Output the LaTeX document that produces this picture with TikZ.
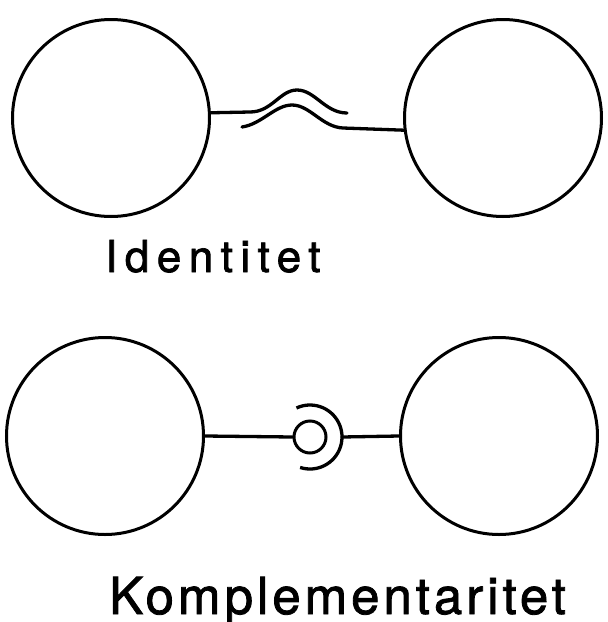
\documentclass[tikz,border=0pt]{standalone}
\usepackage{fontspec}
\setmainfont{TeX Gyre Heros}
\begin{document}
\begin{tikzpicture}[x=1pt,y=-1pt,
  ball/.style={circle,draw,line width=3pt,minimum size=197pt,inner sep=0pt},
  link/.style={line width=3.3pt,line cap=round},
  caption/.style={anchor=base west,inner sep=0pt}]
\useasboundingbox (0,0) rectangle (608,622);

% identity: two circles joined by a broken wavy bond
\node[ball] (A) at (111,118) {};
\node[ball] (B) at (503,118) {};
\coordinate (w1) at (250,112);
\coordinate (w2) at (347,113);
\coordinate (w3) at (242,127);
\coordinate (w4) at (343,128);
\draw[link] (A.3.5) -- (w1) .. controls (272,112) and (280,90) .. (297,90)
  .. controls (315,90) and (325,113) .. (w2);
\draw[link] (w3) .. controls (262,124) and (275,105) .. (292,105)
  .. controls (310,105) and (322,127) .. (w4) -- (B.187.5);
\node[caption] (t1) at (105,272) {\fontsize{44}{44}\addfontfeature{LetterSpace=17,FakeBold=1.6}\selectfont Identitet};

% complementarity: ball-and-socket bond
\node[ball] (C) at (105,436) {};
\node[ball] (D) at (499,436) {};
\node[circle,draw,line width=3pt,minimum size=32pt,inner sep=0pt] (k) at (310,437) {};
\coordinate (sk) at (342,437);
\draw[link] (C.0) -- (k.west);
\draw[link,line cap=butt] (k.center) ++(108:32) arc[start angle=108,end angle=-115,radius=32];
\draw[link] (sk) -- (D.180);
\node[caption] (t2) at (109,614) {\fontsize{51}{51}\addfontfeature{LetterSpace=7.8,FakeBold=1.6}\selectfont Komplementaritet};
\end{tikzpicture}
\end{document}
